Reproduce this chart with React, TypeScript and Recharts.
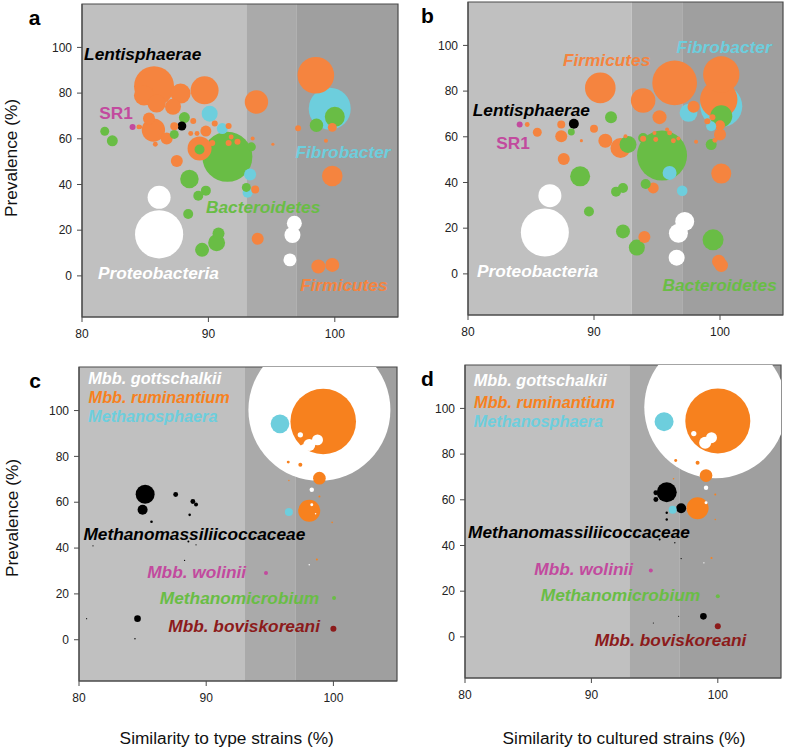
import React from 'react';
import { ScatterChart, Scatter, XAxis, YAxis, ZAxis, ReferenceArea } from 'recharts';

type P = [number, number, number]; // [similarity %, prevalence %, abundance]
type L = [string, number, number]; // [label, similarity %, prevalence %]

// ---------- Panel a (type strains, bacteria) ----------
const aFirmicutes: P[] = [
  [85.7, 83, 400], [84.9, 79, 100], [85.9, 75.4, 81], [87.2, 74, 64], [87.8, 79.8, 100],
  [89.7, 81.2, 196], [93.8, 76.1, 137], [98.5, 87.8, 335], [99.8, 43.7, 106], [93.9, 16.2, 36],
  [98.7, 4.1, 49], [99.8, 4.8, 49], [87.5, 50.3, 36], [85.3, 68.9, 36], [85.65, 63.8, 136],
  [86.7, 60.1, 36], [84.6, 65.2, 4], [85.8, 57.6, 6], [87.3, 65.5, 16], [89.8, 63.4, 30],
  [89.3, 55.8, 144], [88.8, 67.8, 9], [88.6, 62.3, 6], [89.1, 62.3, 6], [90.5, 66.7, 9],
  [91.6, 65.6, 9], [90.3, 58.2, 9], [91.6, 58.2, 9], [92.3, 58.7, 9], [91.8, 60.8, 6],
  [93.5, 60.1, 4], [95.1, 57.6, 2.5], [97.1, 64.6, 9], [99.8, 65.0, 20], [99.3, 59.1, 4],
  [93.7, 37.8, 16], [84.5, 65.2, 6],
];
const aBacteroidetes: P[] = [
  [91.5, 52.1, 625], [100.0, 69.6, 100], [98.55, 65.9, 45], [81.8, 63.3, 20], [82.4, 59.1, 30],
  [88.1, 69.3, 30], [87.3, 61.9, 20], [93.4, 56.5, 20], [88.5, 42.4, 86], [89.8, 37.3, 25],
  [89.2, 35.1, 25], [88.4, 27.1, 25], [90.8, 18.6, 36], [90.65, 14.5, 72], [89.5, 11.4, 49],
  [93.0, 38.7, 20], [89.3, 55.3, 25],
];
const aFibrobacter: P[] = [
  [99.6, 73.2, 441], [90.1, 71.0, 64], [91.1, 64.5, 30], [93.3, 44.4, 36], [93.1, 36.4, 25],
];
const aLentisphaerae: P[] = [[87.9, 65.6, 20]];
const aSR1: P[] = [[84.0, 65.2, 9]];
const aProteobacteria: P[] = [
  [86.1, 34.4, 132], [86.1, 18.2, 580], [96.8, 23.0, 56], [96.65, 17.9, 64], [96.45, 7.0, 42],
];
const aLabels: L[] = [
  ['Lentisphaerae', 84.8, 96.9], ['SR1', 82.7, 71.2], ['Fibrobacter', 100.65, 54.3],
  ['Bacteroidetes', 94.33, 30.3], ['Proteobacteria', 86.05, 1.4], ['Firmicutes', 100.72, -3.9],
];

// ---------- Panel b (cultured strains, bacteria) ----------
const bFirmicutes: P[] = [
  [90.5, 81.4, 234], [96.4, 83.6, 500], [100.1, 87.3, 330], [99.9, 76.3, 350], [93.9, 75.9, 150],
  [95.2, 68.6, 49], [97.9, 73.1, 36], [100.1, 43.9, 100], [99.9, 5.4, 45], [100.1, 3.8, 45],
  [94.0, 16.1, 36], [94.7, 37.6, 30], [92.1, 55.1, 100], [90.9, 58.3, 49], [90.0, 63.5, 16],
  [87.6, 50.3, 36], [87.4, 60.2, 36], [87.4, 65.4, 16], [85.5, 62.0, 20], [84.7, 65.4, 6],
  [89.0, 58.3, 2.5], [94.8, 61.7, 4], [95.8, 63.2, 4], [96.0, 61.7, 6], [94.9, 58.8, 6],
  [96.3, 58.3, 6], [96.7, 59.2, 4], [93.9, 59.1, 9], [92.5, 60.2, 4], [98.1, 57.8, 4],
  [99.0, 66.8, 9], [100.0, 65.0, 25], [100.0, 61.0, 36], [99.6, 58.5, 6], [99.4, 68.6, 9],
];
const bBacteroidetes: P[] = [
  [95.4, 51.8, 625], [91.35, 68.6, 36], [100.1, 69.0, 121], [88.2, 62.1, 12], [92.7, 56.6, 72],
  [93.9, 59.5, 25], [99.3, 56.6, 30], [88.9, 42.7, 100], [92.3, 37.6, 25], [91.75, 36.0, 25],
  [94.1, 39.3, 25], [89.6, 27.3, 25], [92.3, 18.6, 49], [93.4, 11.5, 64], [99.45, 14.9, 110],
];
const bFibrobacter: P[] = [
  [100.1, 73.4, 441], [97.5, 70.5, 80], [96.0, 44.2, 49], [97.0, 36.4, 28], [99.3, 64.6, 25],
];
const bLentisphaerae: P[] = [[88.4, 65.7, 25]];
const bSR1: P[] = [[84.1, 65.4, 9]];
const bProteobacteria: P[] = [
  [86.5, 34.2, 132], [86.1, 18.1, 576], [97.2, 22.9, 90], [96.7, 17.8, 90], [96.56, 7.1, 64],
];
const bLabels: L[] = [
  ['Firmicutes', 91.0, 93.6], ['Fibrobacter', 100.33, 99.4], ['Lentisphaerae', 85.03, 71.9],
  ['SR1', 83.57, 57.3], ['Proteobacteria', 85.52, 1.45], ['Bacteroidetes', 99.97, -4.8],
];

// ---------- Panel c (type strains, archaea) ----------
const cGottschalkii: P[] = [
  [98.9, 100.3, 5041], [97.4, 89.4, 7], [98.75, 87.2, 30], [98.1, 85.0, 36], [97.7, 83.6, 16],
  [98.3, 65.4, 5], [98.3, 58.9, 2.2], [98.6, 55, 0.6], [98.1, 32.7, 0.5],
];
const cRuminantium: P[] = [
  [99.2, 95.2, 1075], [98.9, 70.5, 40], [98.1, 56.3, 121], [96.45, 77.5, 2.2], [97.4, 76.3, 4],
  [98.9, 62.5, 1], [99.9, 51.2, 0.6], [98.7, 35, 1], [96.5, 69.5, 0.5],
];
const cMethanosphaera: P[] = [[95.8, 94.2, 87], [96.5, 55.7, 16]];
const cMethanomass: P[] = [
  [85.2, 63.5, 90], [85.0, 56.7, 25], [87.6, 63.4, 6], [88.95, 60.3, 6], [89.2, 59.0, 4],
  [88.7, 54.5, 1.7], [85.7, 51.5, 1.7], [88.6, 42.9, 1], [81.1, 41.0, 0.4], [89.2, 41.4, 0.4],
  [88.3, 34.6, 0.4], [84.6, 9.2, 11], [84.4, 0.4, 0.5], [80.6, 9.2, 0.3],
];
const cWolinii: P[] = [[94.7, 29.1, 4]];
const cMethanomicrobium: P[] = [[100.05, 18.2, 4]];
const cBoviskoreani: P[] = [[100.0, 4.8, 9]];
const cLabels: L[] = [
  ['Mbb. gottschalkii', 85.95, 114.4], ['Mbb. ruminantium', 86.3, 106.1], ['Methanosphaera', 85.8, 97.8],
  ['Methanomassiliicoccaceae', 89.07, 46.2], ['Mbb. wolinii', 89.25, 29.4],
  ['Methanomicrobium', 92.62, 18.2], ['Mbb. boviskoreani', 92.98, 6.1],
];

// ---------- Panel d (cultured strains, archaea) ----------
const dGottschalkii: P[] = [
  [99.8, 100.5, 5041], [98.1, 89.0, 7], [99.5, 87.2, 30], [99.0, 85.0, 36],
  [99.07, 65.3, 5], [99.07, 58.7, 2.2], [98.9, 32.4, 0.5],
];
const dRuminantium: P[] = [
  [100.0, 94.5, 1056], [99.07, 70.6, 40], [98.4, 56.3, 121], [96.67, 77.2, 2.2], [98.4, 76.2, 4],
  [99.8, 62.3, 1], [99.8, 51.4, 0.6], [99.5, 34.5, 1], [96.5, 69.2, 0.6],
];
const dMethanosphaera: P[] = [[95.75, 94.2, 90], [96.43, 55.6, 16]];
const dMethanomass: P[] = [
  [95.96, 63.3, 100], [95.1, 63.1, 6], [95.1, 60.1, 6], [97.1, 56.3, 25], [95.96, 54.3, 1.5],
  [95.96, 51.4, 1.5], [95.4, 42.6, 1], [96.6, 41.2, 0.4], [97.1, 34.3, 0.4], [98.86, 9.0, 11],
  [96.9, 9.0, 0.3], [94.9, 6.1, 0.3],
];
const dWolinii: P[] = [[94.7, 29.0, 4]];
const dMethanomicrobium: P[] = [[100.0, 17.8, 4]];
const dBoviskoreani: P[] = [[100.0, 4.6, 9]];
const dLabels: L[] = [
  ['Mbb. gottschalkii', 85.95, 112.3], ['Mbb. ruminantium', 86.3, 102.8], ['Methanosphaera', 85.8, 94.4],
  ['Methanomassiliicoccaceae', 89.02, 46.0], ['Mbb. wolinii', 89.39, 29.5],
  ['Methanomicrobium', 92.3, 18.2], ['Mbb. boviskoreani', 96.26, -1.2],
];

// ---------- axes / bands ----------
const xTicks = [80, 90, 100];
const yTicks = [0, 20, 40, 60, 80, 100];
const xDomain: [number, number] = [80, 105];
const yDomain: [number, number] = [-18, 119];
const bandEdges = [80, 93, 97, 105];
const bandColors = ['#c0c0c0', '#aaaaaa', '#9f9f9f'];

const FONT = "'Liberation Sans', Arial, Helvetica, sans-serif";
const ORANGE = '#f5843f';
const ORANGE2 = '#f7811e';
const GREEN = '#69bd45';
const CYAN = '#6dcedd';
const PINK = '#c24a9e';
const DARKRED = '#8c1b1b';
const BLACK = '#000000';
const WHITE = '#ffffff';

const labelColor: Record<string, string> = {
  Lentisphaerae: BLACK, SR1: PINK, Fibrobacter: CYAN, Bacteroidetes: GREEN,
  Proteobacteria: WHITE, Firmicutes: ORANGE,
  'Mbb. gottschalkii': WHITE, 'Mbb. ruminantium': ORANGE2, Methanosphaera: CYAN,
  Methanomassiliicoccaceae: BLACK, 'Mbb. wolinii': PINK, Methanomicrobium: GREEN,
  'Mbb. boviskoreani': DARKRED,
};
const stackedLabels = ['Mbb. gottschalkii', 'Mbb. ruminantium', 'Methanosphaera'];

type Group = { pts: P[]; color: string };
type Pt = { x: number; y: number; z: number; color: string };

function buildPoints(groups: Group[]): Pt[] {
  const out: Pt[] = [];
  groups.forEach((g) => g.pts.forEach(([x, y, z]) => out.push({ x, y, z, color: g.color })));
  out.sort((p, q) => q.z - p.z);
  return out;
}

const Bubble = (props: any) => {
  const { cx, cy, payload } = props;
  let r = props.width != null ? props.width / 2 : Math.sqrt(Math.max(props.size || 0, 0) / Math.PI);
  if (!isFinite(r)) r = 0;
  if (cx == null || cy == null) return null;
  return <circle cx={cx} cy={cy} r={r} fill={payload.color} />;
};

const LabelShape = (props: any) => {
  const { cx, cy, payload } = props;
  if (cx == null || cy == null) return null;
  const upright = payload.text === 'SR1';
  const small = stackedLabels.indexOf(payload.text) >= 0;
  return (
    <text
      x={cx}
      y={cy}
      textAnchor="middle"
      dominantBaseline="central"
      fill={payload.color}
      fontFamily={FONT}
      fontWeight="bold"
      fontStyle={upright ? 'normal' : 'italic'}
      fontSize={small ? 16.3 : 17.3}
    >
      {payload.text}
    </text>
  );
};

type PanelProps = {
  L: number; R: number; T: number; B: number;
  groups: Group[]; labels: L[]; id: string;
};

const Panel = ({ L, R, T, B, groups, labels, id }: PanelProps) => {
  const yAxisW = 60;
  const mTop = 5;
  const width = R - L + yAxisW + 5;
  const height = B - T + mTop + 40;
  const pts = buildPoints(groups);
  const labelPts = labels.map(([text, x, y]) => ({ x, y, z: 0, text, color: labelColor[text] }));
  return (
    <div style={{ position: 'absolute', left: L - yAxisW, top: T - mTop, width, height }}>
      <ScatterChart
        id={id}
        width={width}
        height={height}
        margin={{ top: mTop, right: 5, left: 0, bottom: 10 }}
      >
        <XAxis
          type="number"
          dataKey="x"
          domain={xDomain}
          ticks={xTicks}
          allowDataOverflow
          height={30}
          tickSize={5}
          tickMargin={7}
          axisLine={{ stroke: '#4a4a4a' }}
          tickLine={{ stroke: '#4a4a4a' }}
          tick={{ fill: '#222', fontSize: 12, fontFamily: FONT }}
        />
        <YAxis
          type="number"
          dataKey="y"
          domain={yDomain}
          ticks={yTicks}
          allowDataOverflow
          width={yAxisW}
          tickSize={5}
          tickMargin={5}
          axisLine={{ stroke: '#4a4a4a' }}
          tickLine={{ stroke: '#4a4a4a' }}
          tick={{ fill: '#222', fontSize: 12, fontFamily: FONT }}
        />
        <ZAxis type="number" dataKey="z" domain={[0, 6000]} range={[0, 6000 * Math.PI]} />
        {bandColors.map((c, i) => (
          <ReferenceArea
            key={i}
            x1={bandEdges[i]}
            x2={bandEdges[i + 1]}
            y1={yDomain[0]}
            y2={yDomain[1]}
            fill={c}
            fillOpacity={1}
            stroke="none"
          />
        ))}
        <Scatter data={pts} shape={<Bubble />} isAnimationActive={false} />
        <Scatter data={labelPts} shape={<LabelShape />} isAnimationActive={false} />
        <ReferenceArea
          x1={xDomain[0]}
          x2={xDomain[1]}
          y1={yDomain[0]}
          y2={yDomain[1]}
          fill="none"
          fillOpacity={0}
          stroke="#4a4a4a"
          strokeWidth={1.2}
        />
      </ScatterChart>
    </div>
  );
};

export default function App() {
  const aGroups: Group[] = [
    { pts: aFirmicutes, color: ORANGE }, { pts: aBacteroidetes, color: GREEN },
    { pts: aFibrobacter, color: CYAN }, { pts: aLentisphaerae, color: BLACK },
    { pts: aSR1, color: PINK }, { pts: aProteobacteria, color: WHITE },
  ];
  const bGroups: Group[] = [
    { pts: bFirmicutes, color: ORANGE }, { pts: bBacteroidetes, color: GREEN },
    { pts: bFibrobacter, color: CYAN }, { pts: bLentisphaerae, color: BLACK },
    { pts: bSR1, color: PINK }, { pts: bProteobacteria, color: WHITE },
  ];
  const cGroups: Group[] = [
    { pts: cGottschalkii, color: WHITE }, { pts: cRuminantium, color: ORANGE2 },
    { pts: cMethanosphaera, color: CYAN }, { pts: cMethanomass, color: BLACK },
    { pts: cWolinii, color: PINK }, { pts: cMethanomicrobium, color: GREEN },
    { pts: cBoviskoreani, color: DARKRED },
  ];
  const dGroups: Group[] = [
    { pts: dGottschalkii, color: WHITE }, { pts: dRuminantium, color: ORANGE2 },
    { pts: dMethanosphaera, color: CYAN }, { pts: dMethanomass, color: BLACK },
    { pts: dWolinii, color: PINK }, { pts: dMethanomicrobium, color: GREEN },
    { pts: dBoviskoreani, color: DARKRED },
  ];
  return (
    <div style={{ position: 'absolute', left: 0, top: 0, width: 787, height: 751, background: '#fff', fontFamily: FONT }}>
      <Panel id="pa" L={82} R={398} T={4} B={317} groups={aGroups} labels={aLabels} />
      <Panel id="pb" L={468} R={783} T={2} B={315} groups={bGroups} labels={bLabels} />
      <Panel id="pc" L={79} R={397} T={367} B={681} groups={cGroups} labels={cLabels} />
      <Panel id="pd" L={465} R={781} T={365} B={678} groups={dGroups} labels={dLabels} />
      <svg width={787} height={751} style={{ position: 'absolute', left: 0, top: 0, pointerEvents: 'none' }}>
        <g fontFamily={FONT} fontWeight="bold" fontSize={21} fill="#000">
          <text x={34.7} y={17} textAnchor="middle" dominantBaseline="central">a</text>
          <text x={427.5} y={15} textAnchor="middle" dominantBaseline="central">b</text>
          <text x={35} y={380} textAnchor="middle" dominantBaseline="central">c</text>
          <text x={427.5} y={378} textAnchor="middle" dominantBaseline="central">d</text>
        </g>
        <g fontFamily={FONT} fontSize={17.3} fill="#111">
          <text x={10.5} y={158} textAnchor="middle" dominantBaseline="central" transform="rotate(-90 10.5 158)">Prevalence (%)</text>
          <text x={12} y={518} textAnchor="middle" dominantBaseline="central" transform="rotate(-90 12 518)">Prevalence (%)</text>
          <text x={226.7} y={738} textAnchor="middle" dominantBaseline="central">Similarity to type strains (%)</text>
          <text x={624} y={738} textAnchor="middle" dominantBaseline="central">Similarity to cultured strains (%)</text>
        </g>
      </svg>
    </div>
  );
}
